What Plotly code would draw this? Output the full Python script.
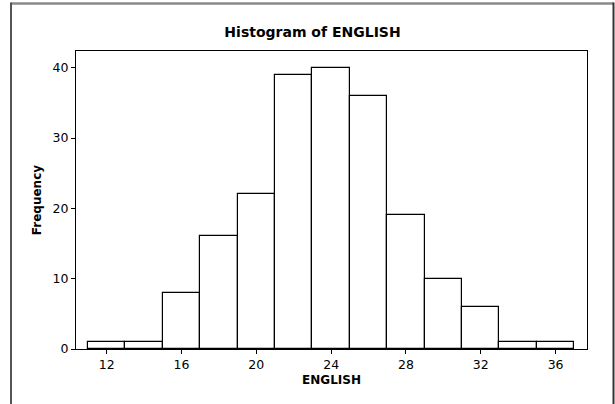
import plotly.graph_objects as go

bin_centers = [12, 14, 16, 18, 20, 22, 24, 26, 28, 30, 32, 34, 36]
frequencies = [1, 1, 8, 16, 22, 39, 40, 36, 19, 10, 6, 1, 1]
x_ticks = [12, 16, 20, 24, 28, 32, 36]
y_ticks = [0, 10, 20, 30, 40]

W, H = 615, 404
ml, mr, mt, mb = 76, 28, 51, 55
pw, ph = W - ml - mr, H - mt - mb

def px_x(p):
    return (p - ml) / pw

def px_y(p):
    return (H - mb - p) / ph

fig = go.Figure()
fig.add_trace(go.Bar(
    x=bin_centers, y=frequencies, width=2,
    marker=dict(color="white", line=dict(color="black", width=1.2)),
    hoverinfo="x+y",
))

font_fam = "Tahoma, DejaVu Sans, Verdana, sans-serif"
fig.update_layout(
    width=W, height=H,
    margin=dict(l=ml, r=mr, t=mt, b=mb, autoexpand=False),
    paper_bgcolor="white", plot_bgcolor="white",
    showlegend=False,
    font=dict(family=font_fam, size=12, color="black"),
    title=dict(text="<b>Histogram of ENGLISH</b>", x=312.5 / W, xref="container",
               xanchor="center", y=1 - 32 / H, yanchor="middle",
               font=dict(size=14, family=font_fam)),
    bargap=0,
)
fig.update_xaxes(
    range=[10.36, 37.68], tickvals=x_ticks, ticktext=[str(v) for v in x_ticks],
    ticks="outside", ticklen=4, tickcolor="black", showline=True, linecolor="black",
    linewidth=1.2, mirror=True, showgrid=False, zeroline=False,
    tickfont=dict(size=12.5),
    title=dict(text="<b>ENGLISH</b>", standoff=4, font=dict(size=12)),
)
fig.update_yaxes(
    range=[0, 42.37], tickvals=y_ticks, ticktext=[str(v) for v in y_ticks],
    ticks="outside", ticklen=4, tickcolor="black", showline=True, linecolor="black",
    linewidth=1.2, mirror=True, showgrid=False, zeroline=False,
    tickfont=dict(size=12.5),
    title=dict(text="<b>Frequency</b>", standoff=8, font=dict(size=12)),
)
# outer frame of the graph window
fig.add_shape(type="line", xref="paper", yref="paper",
              x0=px_x(11), x1=px_x(614), y0=px_y(3.5), y1=px_y(3.5),
              line=dict(color="#8a8a8a", width=2.5))
fig.add_shape(type="line", xref="paper", yref="paper",
              x0=px_x(11), x1=px_x(11), y0=px_y(2.5), y1=px_y(410),
              line=dict(color="#555555", width=2))
fig.add_shape(type="line", xref="paper", yref="paper",
              x0=px_x(613.5), x1=px_x(613.5), y0=px_y(2.5), y1=px_y(410),
              line=dict(color="#333333", width=2))

fig.write_html(
    "out.html",
    config={"displayModeBar": False},
    post_script="document.body.style.margin='0';document.body.style.overflow='hidden';",
)
